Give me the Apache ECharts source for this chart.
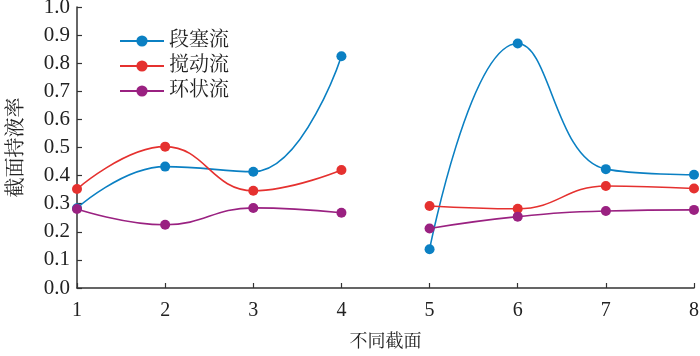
<!DOCTYPE html>
<html><head><meta charset="utf-8">
<script src="https://cdn.jsdelivr.net/npm/echarts@6/dist/echarts.min.js"></script>
<style>html,body{margin:0;padding:0;background:#fff}#c{width:700px;height:356px}</style>
</head><body><div id="c"></div>
<script>
const sections = [1, 2, 3, 4, 5, 6, 7, 8];
const seriesNames = ['段塞流', '搅动流', '环状流'];
const slugFlow = [0.284, 0.432, 0.414, 0.825, 0.138, 0.870, 0.423, 0.403];
const churnFlow = [0.352, 0.503, 0.346, 0.420, 0.292, 0.282, 0.363, 0.354];
const annularFlow = [0.281, 0.225, 0.285, 0.268, 0.212, 0.254, 0.274, 0.278];
const colors = ['#0b80c3', '#e5312f', '#9a2181'];
const yTicks = [0, 0.1, 0.2, 0.3, 0.4, 0.5, 0.6, 0.7, 0.8, 0.9, 1.0];

const serif = '"Liberation Serif", "Times New Roman", "Noto Serif CJK SC", "Noto Sans CJK SC", serif';
const values = [slugFlow, churnFlow, annularFlow];
function pairs(arr) {
  const out = [];
  sections.forEach((s, i) => {
    out.push([s, arr[i]]);
    if (s === 4) out.push([4.5, '-']);
  });
  return out;
}
const series = values.map((arr, k) => ({
  name: seriesNames[k],
  type: 'line',
  smooth: 0.45,
  connectNulls: false,
  symbol: 'circle',
  symbolSize: 10,
  data: pairs(arr),
  itemStyle: { color: colors[k] },
  lineStyle: { color: colors[k], width: 1.6 }
}));

const chart = echarts.init(document.getElementById('c'));
chart.setOption({
  animation: false,
  textStyle: { fontFamily: serif },
  grid: { left: 77, right: 6, top: 7, bottom: 68, containLabel: false, outerBoundsMode: 'none' },
  legend: {
    data: seriesNames,
    orient: 'vertical',
    left: 114, top: 26,
    itemWidth: 44, itemHeight: 14, itemGap: 5,
    textStyle: { fontFamily: serif, fontSize: 20, color: '#222' }
  },
  xAxis: {
    type: 'value', min: 1, max: 8, interval: 1,
    name: '不同截面', nameLocation: 'middle', nameGap: 45,
    nameTextStyle: { fontFamily: serif, fontSize: 18, color: '#222' },
    axisLine: { lineStyle: { color: '#333', width: 1.5 } },
    axisTick: { inside: true, length: 5, lineStyle: { color: '#333', width: 1.2 } },
    axisLabel: { fontFamily: serif, fontSize: 20, color: '#222', margin: 13,
      formatter: v => sections.includes(v) ? String(v) : '' },
    splitLine: { show: false }
  },
  yAxis: {
    type: 'value', min: 0, max: 1, interval: 0.1,
    name: '截面持液率', nameLocation: 'middle', nameGap: 50, nameRotate: 90,
    nameTextStyle: { fontFamily: serif, fontSize: 20, color: '#222' },
    axisLine: { show: true, lineStyle: { color: '#333', width: 1.5 } },
    axisTick: { show: true, inside: true, length: 5, lineStyle: { color: '#333', width: 1.2 } },
    axisLabel: { fontFamily: serif, fontSize: 21, color: '#222', margin: 7,
      formatter: v => { const t = yTicks.find(x => Math.abs(x - v) < 1e-9); return t === undefined ? '' : t.toFixed(1); } },
    splitLine: { show: false }
  },
  series: series
});
</script></body></html>
